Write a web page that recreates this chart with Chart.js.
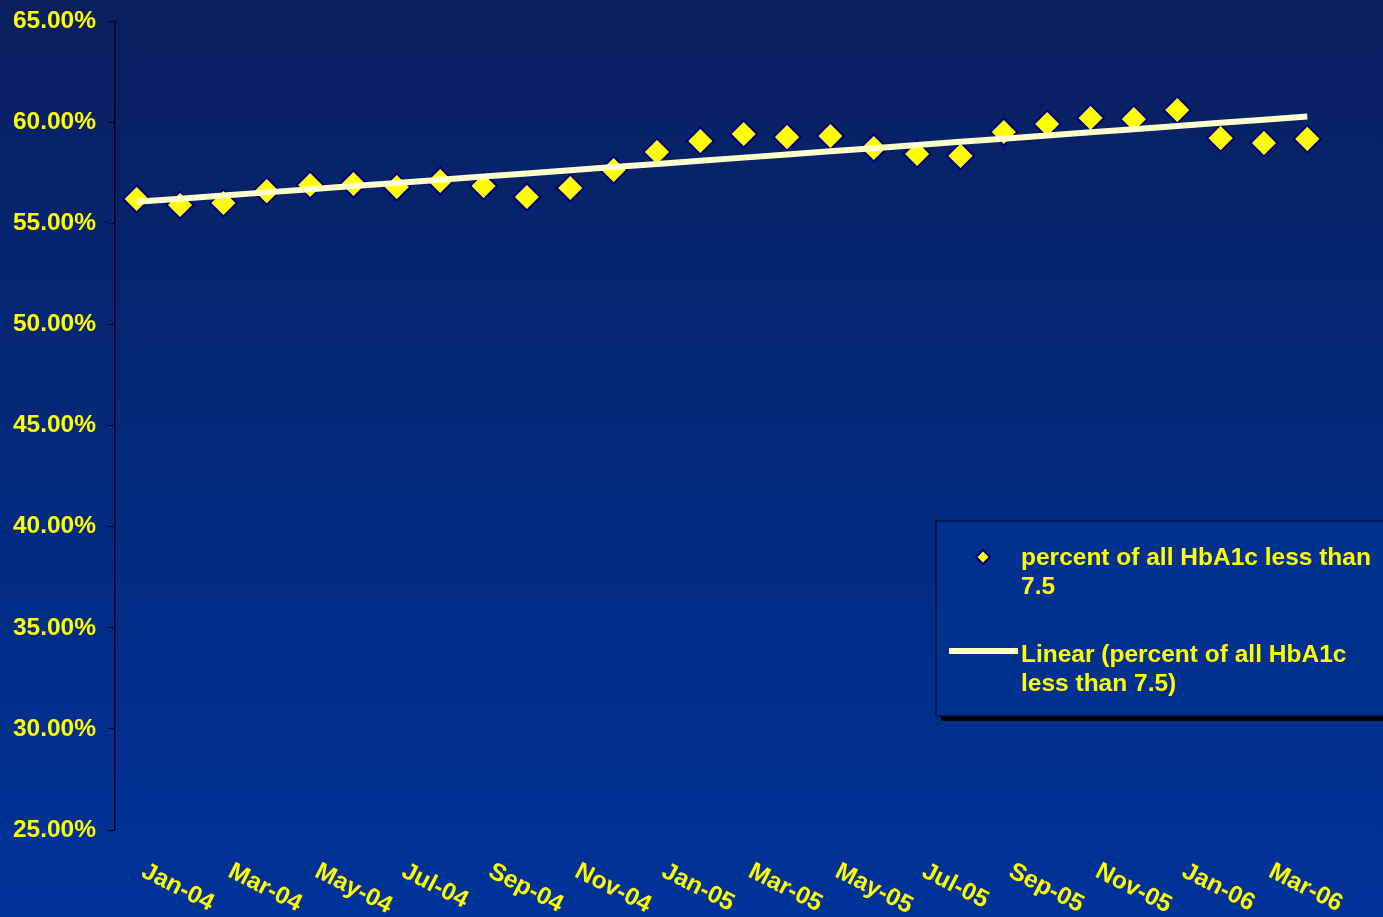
<!DOCTYPE html>
<html>
<head>
<meta charset="utf-8">
<script src="https://cdn.jsdelivr.net/npm/chart.js@4/dist/chart.umd.min.js"></script>
<style>
  html, body { margin: 0; padding: 0; background: #003399; }
  #wrap { position: relative; width: 1383px; height: 917px; }
</style>
</head>
<body>
<div id="wrap"><canvas id="c" width="1383" height="917"></canvas></div>
<script>
// Monthly categories, Jan 2004 through Apr 2006
const months = [
  'Jan-04','Feb-04','Mar-04','Apr-04','May-04','Jun-04','Jul-04','Aug-04','Sep-04','Oct-04','Nov-04','Dec-04',
  'Jan-05','Feb-05','Mar-05','Apr-05','May-05','Jun-05','Jul-05','Aug-05','Sep-05','Oct-05','Nov-05','Dec-05',
  'Jan-06','Feb-06','Mar-06','Apr-06'
];
// Percent of all HbA1c results below 7.5
const pctBelow75 = [
  56.20, 55.90, 56.00, 56.59, 56.89, 56.94, 56.79, 57.09, 56.84, 56.30, 56.74, 57.63,
  58.52, 59.07, 59.41, 59.26, 59.31, 58.72, 58.42, 58.33, 59.51, 59.91, 60.20, 60.15,
  60.60, 59.21, 58.97, 59.17
];
// Y-axis range and step (percent)
const yMin = 25, yMax = 65, yStep = 5;

const seriesName = 'percent of all HbA1c less than 7.5';
const trendName = 'Linear (percent of all HbA1c less than 7.5)';

// Least-squares linear trend over the monthly series
function linearTrend(vals) {
  const n = vals.length;
  let sx = 0, sy = 0, sxy = 0, sxx = 0;
  vals.forEach((v, i) => { sx += i; sy += v; sxy += i * v; sxx += i * i; });
  const slope = (n * sxy - sx * sy) / (n * sxx - sx * sx);
  const icpt = (sy - slope * sx) / n;
  return vals.map((_, i) => icpt + slope * i);
}
const trend = linearTrend(pctBelow75);

const FONT = '"Liberation Sans", Arial, sans-serif';
const YELLOW = '#FFFF00';

// Full-canvas blue gradient backdrop
const backdrop = {
  id: 'backdrop',
  beforeDraw(chart) {
    const { ctx, width, height } = chart;
    const g = ctx.createLinearGradient(0, 0, 0, height);
    g.addColorStop(0, '#0a1f5e');
    g.addColorStop(0.5, '#032a7c');
    g.addColorStop(1, '#003399');
    ctx.save();
    ctx.fillStyle = g;
    ctx.fillRect(0, 0, width, height);
    ctx.restore();
  }
};

// Slanted month labels under every other category
const slantedMonths = {
  id: 'slantedMonths',
  afterDraw(chart) {
    const { ctx } = chart;
    const xs = chart.scales.x;
    const ang = 27 * Math.PI / 180;
    ctx.save();
    ctx.font = 'bold 24.5px ' + FONT;
    ctx.fillStyle = YELLOW;
    ctx.textAlign = 'left';
    ctx.textBaseline = 'top';
    months.forEach((m, i) => {
      if (i % 2 !== 0) return;
      const x = xs.getPixelForValue(i);
      ctx.save();
      ctx.translate(x + 12, 859);
      ctx.rotate(ang);
      ctx.fillText(m, 0, 0);
      ctx.restore();
    });
    ctx.restore();
  }
};

// Boxed legend at the lower right
const boxLegend = {
  id: 'boxLegend',
  afterDraw(chart) {
    const { ctx } = chart;
    const bx = 936, by = 521, bw = 460, bh = 195;
    ctx.save();
    ctx.fillStyle = '#000000';
    ctx.fillRect(bx + 5, by + 5, bw, bh);
    ctx.fillStyle = '#00318e';
    ctx.fillRect(bx, by, bw, bh);
    ctx.strokeStyle = '#001040';
    ctx.lineWidth = 1.5;
    ctx.strokeRect(bx, by, bw, bh);

    // diamond marker
    const mx = 983, my = 557, r = 7;
    ctx.beginPath();
    ctx.moveTo(mx, my - r); ctx.lineTo(mx + r, my); ctx.lineTo(mx, my + r); ctx.lineTo(mx - r, my); ctx.closePath();
    ctx.fillStyle = YELLOW; ctx.fill();
    ctx.strokeStyle = '#000080'; ctx.lineWidth = 2; ctx.stroke();

    // trend line sample
    ctx.beginPath();
    ctx.moveTo(949, 651); ctx.lineTo(1018, 651);
    ctx.strokeStyle = '#FFFFCC'; ctx.lineWidth = 6; ctx.stroke();

    ctx.font = 'bold 24.5px ' + FONT;
    ctx.fillStyle = YELLOW;
    ctx.textAlign = 'left';
    ctx.textBaseline = 'middle';
    ctx.fillText('percent of all HbA1c less than', 1021, 558);
    ctx.fillText('7.5', 1021, 587);
    ctx.fillText('Linear (percent of all HbA1c', 1021, 655);
    ctx.fillText('less than 7.5)', 1021, 684);
    ctx.restore();
  }
};

new Chart(document.getElementById('c'), {
  type: 'line',
  data: {
    labels: months,
    datasets: [
      {
        label: trendName,
        data: trend,
        borderColor: '#FFFFCC',
        borderWidth: 6,
        pointRadius: 0,
        fill: false,
        tension: 0,
        order: 0
      },
      {
        label: seriesName,
        data: pctBelow75,
        showLine: false,
        pointStyle: 'rectRot',
        pointRadius: 13.5,
        pointBackgroundColor: YELLOW,
        pointBorderColor: '#000080',
        pointBorderWidth: 2,
        order: 1
      }
    ]
  },
  options: {
    responsive: false,
    animation: false,
    events: [],
    layout: { padding: { top: 21, right: 54, bottom: 0, left: 0 } },
    plugins: { legend: { display: false }, tooltip: { enabled: false } },
    scales: {
      x: {
        type: 'category',
        offset: true,
        grid: { display: false, drawTicks: false },
        border: { display: false },
        ticks: { display: false },
        afterFit(s) { s.height = 87; s.paddingLeft = 0; s.paddingRight = 0; }
      },
      y: {
        min: yMin,
        max: yMax,
        grid: { drawOnChartArea: false, drawTicks: true, tickLength: 7, color: '#000022' },
        border: { display: true, color: '#000022', width: 1.5 },
        ticks: {
          stepSize: yStep,
          color: YELLOW,
          padding: 12,
          font: { family: FONT, size: 24.5, weight: 'bold' },
          callback: v => v.toFixed(2) + '%'
        },
        afterFit(s) { s.width = 115; s.paddingTop = 0; s.paddingBottom = 0; }
      }
    }
  },
  plugins: [backdrop, slantedMonths, boxLegend]
});
</script>
</body>
</html>
